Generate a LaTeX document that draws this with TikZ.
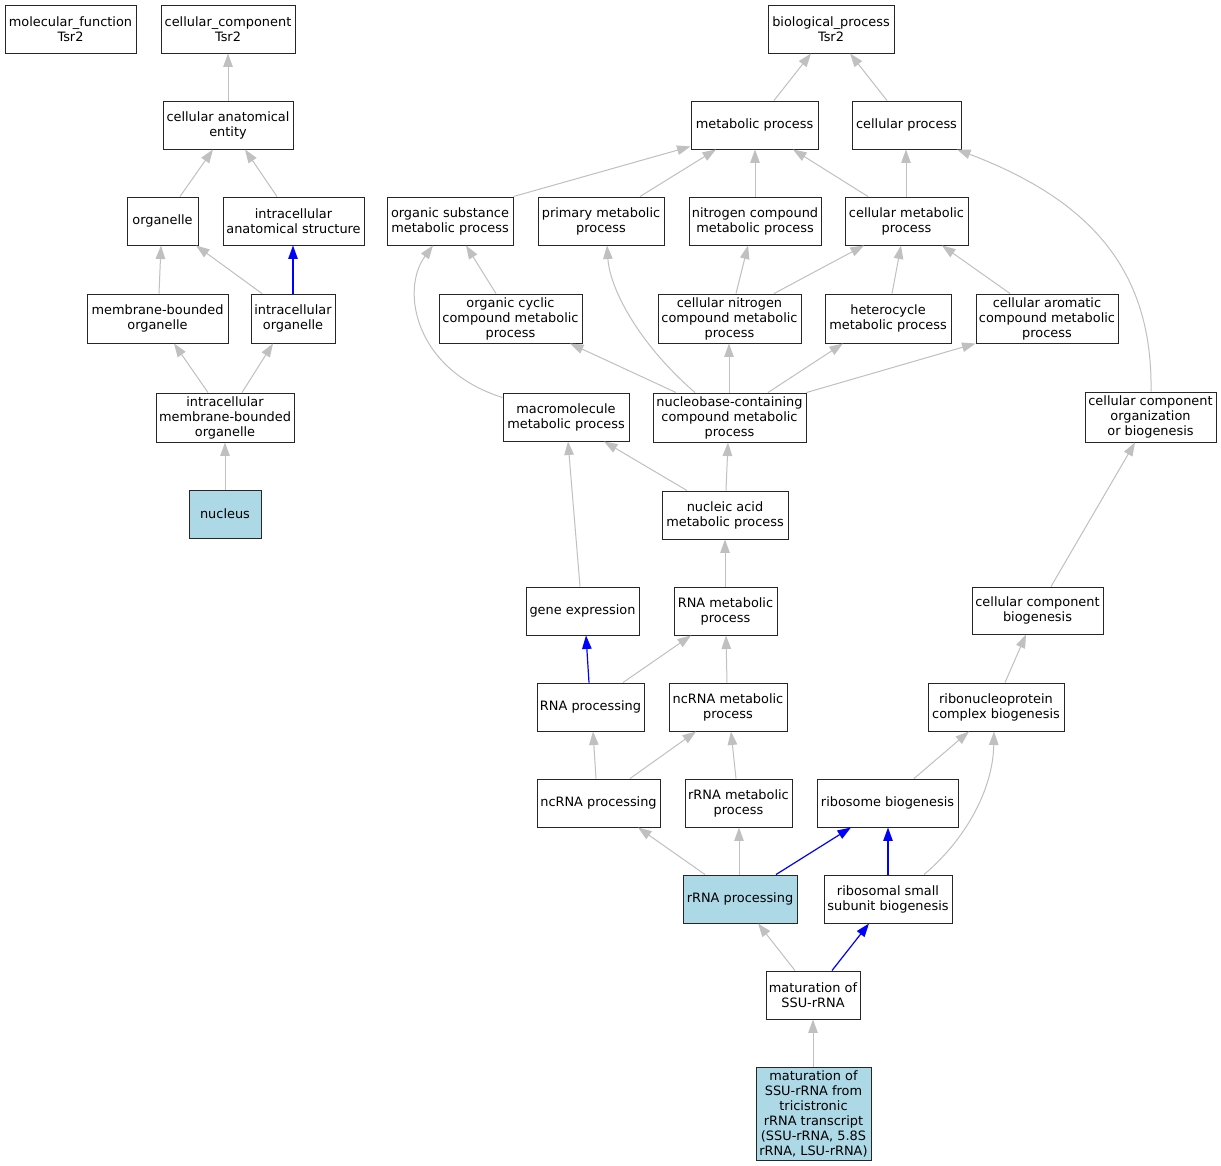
\documentclass[tikz,border=0pt]{standalone}
\usepackage{fontspec}
\setmainfont{DejaVu Sans}
\usetikzlibrary{arrows.meta}
\definecolor{edgegray}{HTML}{C0C0C0}
\definecolor{lblue}{HTML}{ADD8E6}
\tikzset{
  gobox/.style={draw=black!85,line width=0.95pt,fill=white,inner sep=0pt,align=center,
    font=\fontsize{12.9}{15}\selectfont},
  hit/.style={fill=lblue},
  ge/.style={draw=edgegray,line width=1pt,-{Triangle[length=13.5pt,width=9.5pt]}},
  be/.style={draw=blue,line width=1.2pt,-{Triangle[length=13.5pt,width=9.5pt]}},
}
\newcommand\gonode[7][]{%
  \pgfmathsetmacro\gow{#5-#3}\pgfmathsetmacro\goh{#6-#4}%
  \pgfmathsetmacro\gox{(#3+#5)/2}\pgfmathsetmacro\goy{(#4+#6)/2}%
  \node[gobox,#1,minimum width=\gow pt,minimum height=\goh pt] (#2) at (\gox,\goy) {#7};}
\begin{document}
\begin{tikzpicture}[x=1pt,y=-1pt]
\fill[white] (0,0) rectangle (1221,1165);
\useasboundingbox (0,0) rectangle (1221,1165);
% cellular component side
\gonode{mf}{5}{5}{136}{53}{molecular\_function\\Tsr2}
\gonode{cc}{161}{5}{295}{53}{cellular\_component\\Tsr2}
\gonode{cae}{163}{101}{293}{149}{cellular anatomical\\entity}
\gonode{org}{127}{197}{198}{245}{organelle}
\gonode{ias}{223}{197}{364}{245}{intracellular\\anatomical structure}
\gonode{mbo}{87}{294}{228}{343}{membrane-bounded\\organelle}
\gonode{io}{251}{294}{335}{343}{intracellular\\organelle}
\gonode{imbo}{156}{393}{294}{442}{intracellular\\membrane-bounded\\organelle}
\gonode[hit]{nuc}{189}{490}{261}{538}{nucleus}
% biological process side
\gonode{bp}{768}{5}{894}{53}{biological\_process\\Tsr2}
\gonode{mp}{691}{101}{818}{149}{metabolic process}
\gonode{cp}{852}{101}{961}{149}{cellular process}
\gonode{osmp}{387}{197}{513}{245}{organic substance\\metabolic process}
\gonode{pmp}{538}{197}{664}{245}{primary metabolic\\process}
\gonode{ncmp}{689}{197}{821}{245}{nitrogen compound\\metabolic process}
\gonode{cmp}{845}{197}{968}{245}{cellular metabolic\\process}
\gonode{occmp}{439}{294}{582}{343}{organic cyclic\\compound metabolic\\process}
\gonode{cncmp}{658}{294}{801}{343}{cellular nitrogen\\compound metabolic\\process}
\gonode{hmp}{825}{294}{951}{343}{heterocycle\\metabolic process}
\gonode{camp}{976}{294}{1118}{343}{cellular aromatic\\compound metabolic\\process}
\gonode{mmp}{503}{393}{629}{441}{macromolecule\\metabolic process}
\gonode{nbc}{653}{393}{806}{442}{nucleobase-containing\\compound metabolic\\process}
\gonode{ccob}{1085}{392}{1216}{442}{cellular component\\organization\\or biogenesis}
\gonode{nam}{662}{491}{788}{539}{nucleic acid\\metabolic process}
\gonode{gex}{526}{587}{639}{635}{gene expression}
\gonode{rnam}{674}{587}{777}{635}{RNA metabolic\\process}
\gonode{ccb}{972}{587}{1103}{634}{cellular component\\biogenesis}
\gonode{rnap}{537}{683}{644}{731}{RNA processing}
\gonode{ncm}{669}{683}{787}{731}{ncRNA metabolic\\process}
\gonode{rcb}{928}{683}{1064}{731}{ribonucleoprotein\\complex biogenesis}
\gonode{ncp}{537}{779}{660}{827}{ncRNA processing}
\gonode{rrm}{685}{779}{792}{827}{rRNA metabolic\\process}
\gonode{rb}{817}{779}{958}{827}{ribosome biogenesis}
\gonode[hit]{rrp}{683}{875}{797}{923}{rRNA processing}
\gonode{rssb}{824}{875}{952}{923}{ribosomal small\\subunit biogenesis}
\gonode{mssu}{766}{971}{860}{1019}{maturation of\\SSU-rRNA}
\gonode[hit]{mtri}{756}{1067}{871}{1160}{maturation of\\SSU-rRNA from\\tricistronic\\rRNA transcript\\(SSU-rRNA, 5.8S\\rRNA, LSU-rRNA)}
% edges: cellular component
\draw[ge] (cae.north -| 228,0) -- (cc.south -| 228,0);
\draw[ge] (org.north -| 180,0) -- (cae.south -| 213,0);
\draw[ge] (ias.north -| 277,0) -- (cae.south -| 245,0);
\draw[be] (io.north -| 293,0) -- (ias.south -| 293,0);
\draw[ge] (io.north -| 262,0) -- (org.south -| 196,0);
\draw[ge] (mbo.north -| 159,0) -- (org.south -| 161,0);
\draw[ge] (imbo.north -| 208,0) -- (mbo.south -| 174,0);
\draw[ge] (imbo.north -| 242,0) -- (io.south -| 273,0);
\draw[ge] (nuc.north -| 225,0) -- (imbo.south -| 225,0);
% edges: biological process
\draw[ge] (mp.north -| 774,0) -- (bp.south -| 811,0);
\draw[ge] (cp.north -| 887,0) -- (bp.south -| 850,0);
\draw[ge] (osmp.north east) -- ([yshift=3pt]mp.south west);
\draw[ge] (pmp.north -| 640,0) -- (mp.south -| 716,0);
\draw[ge] (ncmp.north -| 755,0) -- (mp.south -| 755,0);
\draw[ge] (cmp.north -| 868,0) -- (mp.south -| 793,0);
\draw[ge] (cmp.north -| 906,0) -- (cp.south -| 906,0);
\draw[ge] (occmp.north -| 496,0) -- (osmp.south -| 466,0);
\draw[ge] (cncmp.north -| 736,0) -- (ncmp.south -| 748,0);
\draw[ge] (cncmp.north -| 774,0) -- (cmp.south -| 864,0);
\draw[ge] (hmp.north -| 892,0) -- (cmp.south -| 901,0);
\draw[ge] (camp.north -| 1010,0) -- (cmp.south -| 942,0);
\draw[ge] (ccob.north -| 1151,0) .. controls (1153,270) and (1090,200) .. (cp.south -| 957,0);
\draw[ge] ([yshift=-5pt]mmp.north west) .. controls (415,370) and (400,290) .. (osmp.south -| 433,0);
\draw[ge] (nbc.north -| 676,0) -- (occmp.south -| 570,0);
\draw[ge] (nbc.north -| 695,0) .. controls (640,345) and (610,290) .. (pmp.south -| 607,0);
\draw[ge] (nbc.north -| 729,0) -- (cncmp.south -| 729,0);
\draw[ge] (nbc.north -| 768,0) -- (hmp.south -| 843,0);
\draw[ge] (nbc.north east) -- (camp.south west);
\draw[ge] (nam.north -| 687,0) -- (mmp.south -| 604,0);
\draw[ge] (nam.north -| 726,0) -- (nbc.south -| 728,0);
\draw[ge] (gex.north -| 580,0) -- (mmp.south -| 568,0);
\draw[ge] (rnam.north -| 725,0) -- (nam.south -| 725,0);
\draw[ge] (ccb.north -| 1051,0) -- (ccob.south -| 1135,0);
\draw[be] (rnap.north -| 589,0) -- (gex.south -| 586,0);
\draw[ge] (rnap.north -| 623,0) -- (rnam.south -| 691,0);
\draw[ge] (ncm.north -| 727,0) -- (rnam.south -| 726,0);
\draw[ge] (rcb.north -| 1005,0) -- (ccb.south -| 1026,0);
\draw[ge] (ncp.north -| 596,0) -- (rnap.south -| 593,0);
\draw[ge] (ncp.north -| 630,0) -- (ncm.south -| 696,0);
\draw[ge] (rrm.north -| 736,0) -- (ncm.south -| 731,0);
\draw[ge] (rb.north -| 914,0) -- (rcb.south -| 969,0);
\draw[ge] (rssb.north -| 924,0) .. controls (965,840) and (993,790) .. (rcb.south -| 994,0);
\draw[ge] (rrp.north -| 705,0) -- (ncp.south -| 638,0);
\draw[ge] (rrp.north -| 739,0) -- (rrm.south -| 739,0);
\draw[be] (rrp.north -| 776,0) -- (rb.south -| 851,0);
\draw[be] (rssb.north -| 888,0) -- (rb.south -| 888,0);
\draw[ge] (mssu.north -| 795,0) -- (rrp.south -| 758,0);
\draw[be] (mssu.north -| 832,0) -- (rssb.south -| 869,0);
\draw[ge] (mtri.north -| 813,0) -- (mssu.south -| 813,0);
\end{tikzpicture}
\end{document}
